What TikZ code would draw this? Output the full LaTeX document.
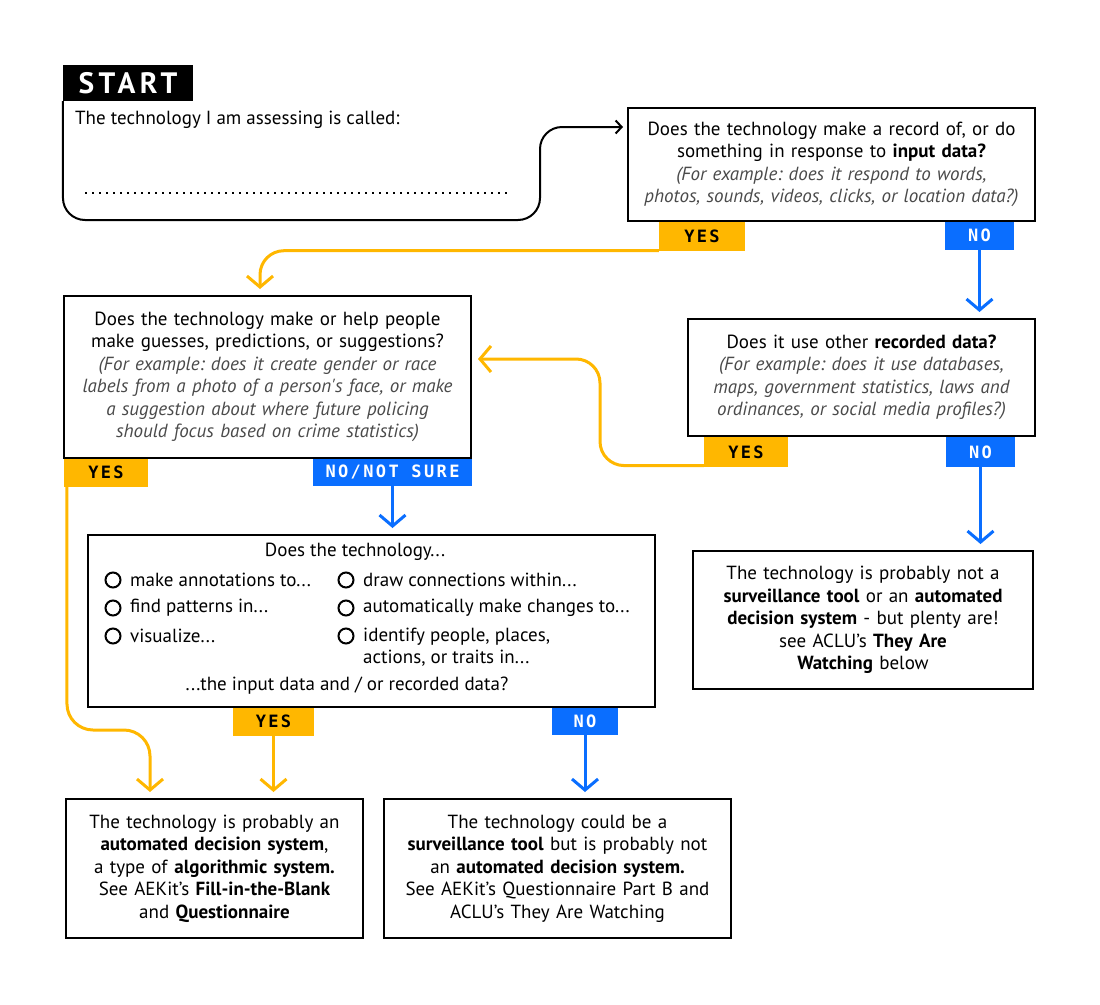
\documentclass[tikz,border=0pt]{standalone}
\usepackage{fontspec}
\setmainfont{PT Sans}
\newfontfamily\tagfont[LetterSpace=14]{DejaVu Sans Mono}
\newfontfamily\startfont[LetterSpace=15]{PT Sans}
\usetikzlibrary{arrows.meta}
\frenchspacing

\definecolor{aekgold}{HTML}{FFB700}
\definecolor{aekblue}{HTML}{0A6EFF}
\definecolor{notegray}{HTML}{4A4A4A}

\newcommand{\ex}[1]{{\itshape\color{notegray}#1}}

\tikzset{
	plain/.style={inner sep=0pt, font=\fontsize{19}{22.5}\selectfont},
	qbox/.style={draw=black, line width=2pt, fill=white, align=center, inner sep=0pt, font=\fontsize{19}{22.5}\selectfont},
	tagbox/.style={inner sep=0pt, font=\tagfont\bfseries\fontsize{17}{17}\selectfont},
	yestag/.style={tagbox, fill=aekgold, text=black},
	notag/.style={tagbox, fill=aekblue, text=white},
	yline/.style={draw=aekgold, line width=3pt, -{Straight Barb[length=11pt,width=26pt]}, shorten >=6pt},
	bline/.style={draw=aekblue, line width=3pt, -{Straight Barb[length=11pt,width=26pt]}, shorten >=6pt},
	kline/.style={draw=black, line width=2pt, -{Straight Barb[length=6pt,width=13pt]}, shorten >=4pt},
	ring/.style={draw=black, line width=2pt}
}

\begin{document}
\begin{tikzpicture}[x=1pt,y=-1pt]
	\useasboundingbox (0,0) rectangle (1100,1004);

	% start label and the name field
	\node[fill=black, text=white, font=\startfont\bfseries\fontsize{29.5}{29.5}\selectfont, minimum width=130, minimum height=36, inner sep=0pt] (start) at (128,83) {START};
	\node[plain, anchor=west] (called) at (75,120) {The technology I am assessing is called:};
	\draw[line width=1.5pt, dash pattern=on 1.5pt off 5.5pt] (85,193) -- (512,193);

	% question boxes
	\node[qbox, minimum width=407, minimum height=113, text width=404] (input) at (831.5,164.5)
		{Does the technology make a record of, or do\\ something in response to \textbf{input data?}\\
		\ex{(For example: does it respond to words,}\\ \ex{photos, sounds, videos, clicks, or location data?)}};
	\node[qbox, minimum width=407, minimum height=162, text width=404] (guess) at (267.5,377)
		{Does the technology make or help people\\ make guesses, predictions, or suggestions?\\
		\ex{(For example: does it create gender or race}\\ \ex{labels from a photo of a person\textquotesingle s face, or make}\\
		\ex{a suggestion about where future policing}\\ \ex{should focus based on crime statistics)}};
	\node[qbox, minimum width=347, minimum height=117, text width=344] (recorded) at (861.5,377.5)
		{Does it use other \textbf{recorded data?}\\ \ex{(For example: does it use databases,}\\
		\ex{maps, government statistics, laws and}\\ \ex{ordinances, or social media profiles?)}\\[4pt]};
	\node[qbox, minimum width=567, minimum height=172] (dotech) at (371.5,621) {};

	% answers
	\node[qbox, minimum width=340, minimum height=138, text width=336] (notool) at (863,620)
		{The technology is probably not a\\ \textbf{surveillance tool} or an \textbf{automated}\\
		\textbf{decision system} - but plenty are!\\ see ACLU’s \textbf{They Are}\\ \textbf{Watching} below};
	\node[qbox, minimum width=297, minimum height=139, text width=294] (auto) at (214.5,868.5)
		{The technology is probably an\\ \textbf{automated decision system},\\ a type of \textbf{algorithmic system.}\\
		See AEKit’s \textbf{Fill-in-the-Blank}\\ and \textbf{Questionnaire}};
	\node[qbox, minimum width=347, minimum height=139, text width=344] (surv) at (557.5,868.5)
		{The technology could be a\\ \textbf{surveillance tool} but is probably not\\ an \textbf{automated decision system.}\\
		See AEKit’s Questionnaire Part B and\\ ACLU’s They Are Watching};

	% inside the checklist box
	\node[plain] (dthead) at (355,552) {Does the technology...};
	\node[plain, anchor=west] (annot) at (130,580) {make annotations to...};
	\node[plain, anchor=west] (patt) at (130,608) {find patterns in...};
	\node[plain, anchor=west] (visu) at (130,636) {visualize...};
	\node[plain, anchor=west] (conn) at (363,580) {draw connections within...};
	\node[plain, anchor=west] (chng) at (363,608) {automatically make changes to...};
	\node[plain, anchor=west, align=left] (ident) at (363,647) {identify people, places,\\ actions, or traits in...};
	\node[plain] (dtfoot) at (347,686) {...the input data and / or recorded data?};
	\foreach \x/\y in {113/580, 113/608, 113/636, 346/580, 346/608, 346/636}
		\draw[ring] (\x,\y) circle [radius=7.5pt];

	% yes / no tags
	\node[yestag, minimum width=86, minimum height=29] (yes1) at (702,236) {YES};
	\node[notag, minimum width=69, minimum height=28] (no1) at (979.5,235.5) {NO};
	\node[yestag, minimum width=84, minimum height=28] (yes2) at (106,472.5) {YES};
	\node[notag, minimum width=159, minimum height=27] (nns) at (392.5,472) {NO/NOT SURE};
	\node[yestag, minimum width=84, minimum height=30] (yes3) at (746,452) {YES};
	\node[notag, minimum width=69, minimum height=30] (no3) at (980.5,452) {NO};
	\node[yestag, minimum width=81, minimum height=28] (yes5) at (273.5,721.5) {YES};
	\node[notag, minimum width=66, minimum height=27] (no5) at (585,721) {NO};

	% connectors
	\draw[kline, rounded corners=22] (start.south west) -- (63,220) -- (540,220) -- (540,127) -- (input.west |- 0,127);
	\draw[yline, rounded corners=24] (yes1.south west) -| ([xshift=-7.5pt]guess.north);
	\draw[bline] (no1.south) -- (no1.south |- recorded.north);
	\draw[yline, rounded corners=24] ([yshift=1.5pt]yes3.south west) -- (600,465.5) -- (600,359) -- (guess.east |- 0,359);
	\draw[bline] (no3.south) -- (no3.south |- notool.north);
	\draw[bline] (nns.south) -- (nns.south |- dotech.north);
	\draw[yline, rounded corners=26] ([xshift=3pt]yes2.south west) -- (67,730) -- (150,730) -- (150,0 |- auto.north);
	\draw[yline] (yes5.south) -- (yes5.south |- auto.north);
	\draw[bline] (no5.south) -- (no5.south |- surv.north);

\end{tikzpicture}
\end{document}
